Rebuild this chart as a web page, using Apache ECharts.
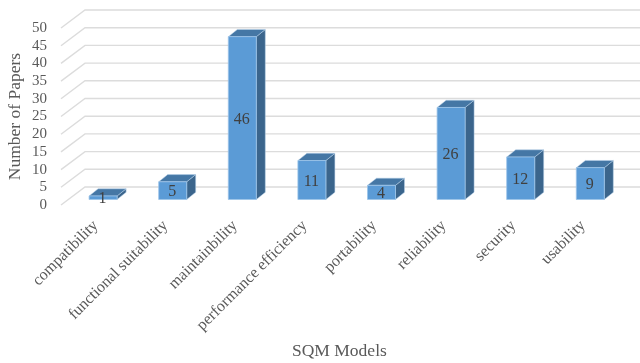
<!DOCTYPE html>
<html>
<head>
<meta charset="utf-8">
<style>html,body{margin:0;padding:0;background:#fff}#chart{width:640px;height:363px}</style>
<script src="https://cdn.jsdelivr.net/npm/echarts@6/dist/echarts.min.js"></script>
</head>
<body>
<div id="chart"></div>
<script>
const categories = ['compatibility', 'functional suitability', 'maintainbility', 'performance efficiency', 'portability', 'reliability', 'security', 'usability'];
const paperCounts = [1, 5, 46, 11, 4, 26, 12, 9];
const yTicks = [0, 5, 10, 15, 20, 25, 30, 35, 40, 45, 50];

// Oblique projection of the pseudo-3D column chart, in pixels.
const WALL_DX = 24, WALL_DY = -18;      // floor front edge to back wall
const BAR_PLANE_DX = 7.3, BAR_PLANE_DY = -5.5; // floor front edge to column front face
const BAR_WIDTH = 28, BAR_DX = 9, BAR_DY = -7.2; // column width and depth

const serif = '"Liberation Serif", "Times New Roman", serif';
const chart = echarts.init(document.getElementById('chart'), null, {renderer: 'canvas'});

function renderGridline(params, api) {
  const cs = params.coordSys;
  const y = api.coord([0, api.value(0)])[1];
  return {
    type: 'polyline',
    silent: true,
    shape: {points: [
      [cs.x, y],
      [cs.x + WALL_DX, y + WALL_DY],
      [cs.x + cs.width + WALL_DX, y + WALL_DY]
    ]},
    style: {stroke: '#dcdcdc', lineWidth: 1.4, fill: null}
  };
}

function renderColumn(params, api) {
  const top = api.coord([api.value(0), api.value(1)]);
  const base = api.coord([api.value(0), 0]);
  const l = top[0] + BAR_PLANE_DX - BAR_WIDTH / 2;
  const r = l + BAR_WIDTH;
  const t = top[1] + BAR_PLANE_DY;
  const b = base[1] + BAR_PLANE_DY;
  return {
    type: 'group',
    children: [
      {type: 'polygon', shape: {points: [[r, t], [r + BAR_DX, t + BAR_DY], [r + BAR_DX, b + BAR_DY], [r, b]]},
        style: {fill: '#3b658c', stroke: '#b9d3ea', lineWidth: 0.5}},
      {type: 'polygon', shape: {points: [[l, t], [l + BAR_DX, t + BAR_DY], [r + BAR_DX, t + BAR_DY], [r, t]]},
        style: {fill: '#4577a5', stroke: '#b9d3ea', lineWidth: 0.5}},
      {type: 'rect', shape: {x: l, y: t, width: BAR_WIDTH, height: b - t},
        style: {fill: '#5b9bd6', stroke: '#9cc4e8', lineWidth: 0.8}},
      {type: 'text', z2: 10,
        style: {x: (l + r) / 2 - 0.5, y: (t + b) / 2 + 1.5, text: String(api.value(1)), align: 'center', verticalAlign: 'middle',
          fill: '#404040', font: '16px ' + serif}}
    ]
  };
}

chart.setOption({
  animation: false,
  backgroundColor: '#ffffff',
  grid: {left: 61, top: 28, width: 556.8, height: 177, outerBoundsMode: 'none'},
  xAxis: {
    type: 'category',
    data: categories,
    name: 'SQM Models',
    nameLocation: 'middle',
    nameMoveOverlap: false,
    nameGap: 137,
    nameTextStyle: {fontFamily: serif, fontSize: 17.5, color: '#595959'},
    axisLine: {show: false},
    axisTick: {show: false},
    axisLabel: {rotate: 45, interval: 0, margin: 18, fontFamily: serif, fontSize: 16, color: '#595959'}
  },
  yAxis: {
    type: 'value',
    min: 0,
    max: 50,
    interval: 5,
    name: 'Number of Papers',
    nameLocation: 'middle',
    nameMoveOverlap: false,
    nameGap: 37,
    nameTextStyle: {fontFamily: serif, fontSize: 17.5, color: '#595959'},
    axisLine: {show: false},
    axisTick: {show: false},
    splitLine: {show: false},
    axisLabel: {margin: 14, fontFamily: serif, fontSize: 15, color: '#595959'}
  },
  series: [
    {type: 'custom', renderItem: renderGridline, data: yTicks.map(v => [v]), encode: {y: 0}, clip: false, silent: true, z: 1},
    {type: 'custom', renderItem: renderColumn, data: paperCounts.map((v, i) => [i, v]), encode: {x: 0, y: 1}, clip: false, silent: true, z: 2}
  ]
});
</script>
</body>
</html>
